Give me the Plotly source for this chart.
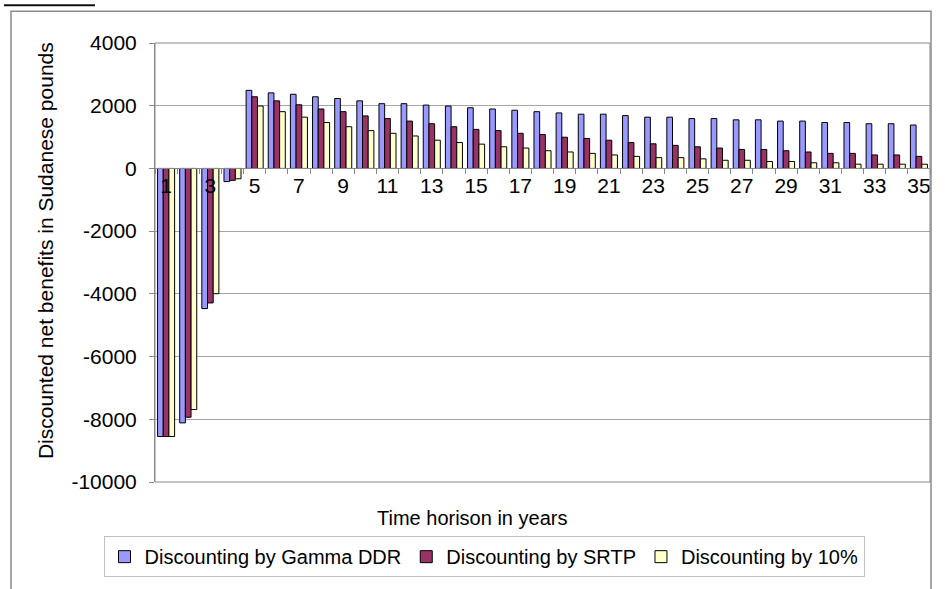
import plotly.graph_objects as go

years = [1, 2, 3, 4, 5, 6, 7, 8, 9, 10, 11, 12, 13, 14, 15, 16, 17, 18,
         19, 20, 21, 22, 23, 24, 25, 26, 27, 28, 29, 30, 31, 32, 33, 34, 35]

gamma_ddr = [-8550, -8115, -4470, -420, 2490, 2410, 2365, 2285, 2230, 2155, 2065,
             2065, 2020, 1990, 1935, 1895, 1855, 1810, 1770, 1730, 1730, 1685,
             1635, 1635, 1590, 1590, 1550, 1550, 1510, 1510, 1465, 1465, 1425,
             1425, 1385]
srtp = [-8550, -7935, -4290, -380, 2285, 2155, 2030, 1895, 1810, 1675, 1590,
        1510, 1425, 1330, 1245, 1205, 1120, 1080, 995, 955, 900, 825, 785,
        735, 690, 650, 605, 605, 565, 525, 480, 480, 430, 430, 385]
ten_pct = [-8550, -7690, -3995, -330, 1990, 1810, 1635, 1465, 1330, 1205, 1120,
           1035, 900, 825, 775, 690, 650, 565, 525, 480, 430, 385, 345, 345,
           305, 260, 260, 220, 220, 180, 180, 135, 135, 135, 135]

series_names = ["Discounting by Gamma DDR", "Discounting by SRTP", "Discounting by 10%"]
series_colors = ["#9999FF", "#993366", "#FFFFCC"]

x_tick_vals = [1, 3, 5, 7, 9, 11, 13, 15, 17, 19, 21, 23, 25, 27, 29, 31, 33, 35]
x_tick_text = ["1", "3", "5", "7", "9", "11", "13", "15", "17", "19", "21", "23",
               "25", "27", "29", "31", "33", "35"]
y_tick_vals = [4000, 2000, 0, -2000, -4000, -6000, -8000, -10000]
y_tick_text = ["4000", "2000", "0", "-2000", "-4000", "-6000", "-8000", "-10000"]

W, H = 951, 589
L, R, T, B = 155, 930, 43, 484
FONT = "Liberation Sans, Arial, sans-serif"


def px(x):
    return (x - L) / (R - L)


def py(y):
    return (B - y) / (B - T)


Y_MIN, Y_MAX = -10000, 4000
zero_pos = (0 - Y_MIN) / (Y_MAX - Y_MIN)

fig = go.Figure()
for name, vals, col in zip(series_names, [gamma_ddr, srtp, ten_pct], series_colors):
    fig.add_trace(go.Bar(x=years, y=vals, name=name,
                         marker=dict(color=col, line=dict(color="#000000", width=1))))

fig.update_layout(
    width=W, height=H,
    margin=dict(l=L, r=W - R, t=T, b=H - B, pad=0),
    paper_bgcolor="white", plot_bgcolor="white",
    barmode="group", bargap=0.23, bargroupgap=0.0,
    font=dict(family=FONT, size=20, color="#000000"),
    showlegend=True,
    legend=dict(orientation="h", x=px(484), xanchor="center", y=py(559), yanchor="middle",
                bordercolor="#C0C0C0", borderwidth=1, bgcolor="white",
                font=dict(size=20), itemwidth=30, traceorder="normal"),
    xaxis=dict(range=[0.5, 35.5], anchor="free", position=zero_pos,
               tickmode="array", tickvals=x_tick_vals, ticktext=x_tick_text,
               ticks="", showgrid=False, zeroline=False,
               showline=True, linecolor="#888888", linewidth=1,
               tickfont=dict(size=21), ticklabelstandoff=-2,
               minor=dict(ticks="outside", tick0=0.5, dtick=1, ticklen=5,
                          tickcolor="#888888", showgrid=False)),
    yaxis=dict(range=[Y_MIN, Y_MAX], tickmode="array", tickvals=y_tick_vals,
               ticktext=y_tick_text, showgrid=True, gridcolor="#A6A6A6", gridwidth=1,
               zeroline=False, showline=True, linecolor="#888888", linewidth=1,
               ticks="outside", ticklen=5, tickcolor="#888888",
               tickfont=dict(size=21), ticklabelstandoff=8),
    annotations=[
        dict(text="Discounted net benefits in Sudanese pounds", textangle=-90,
             xref="paper", yref="paper", x=px(45), y=py(252),
             xanchor="center", yanchor="middle", showarrow=False,
             font=dict(size=21)),
        dict(text="Time horison in years", xref="paper", yref="paper",
             x=px(472), y=py(520), xanchor="center", yanchor="middle",
             showarrow=False, font=dict(size=20)),
    ],
    shapes=[
        dict(type="rect", xref="paper", yref="paper", x0=0, x1=1, y0=0, y1=1,
             line=dict(color="#888888", width=1), layer="above"),
        dict(type="rect", xref="paper", yref="paper", x0=px(11), x1=px(931),
             y0=py(600), y1=py(11), line=dict(color="#8C8C8C", width=1.5)),
        dict(type="line", xref="paper", yref="paper", x0=px(4), x1=px(95),
             y0=py(5), y1=py(5), line=dict(color="#111111", width=2)),
    ],
)

fig.write_html(
    "out.html",
    config={"displayModeBar": False},
    post_script="document.body.style.margin='0px';document.body.style.overflow='hidden';",
)
